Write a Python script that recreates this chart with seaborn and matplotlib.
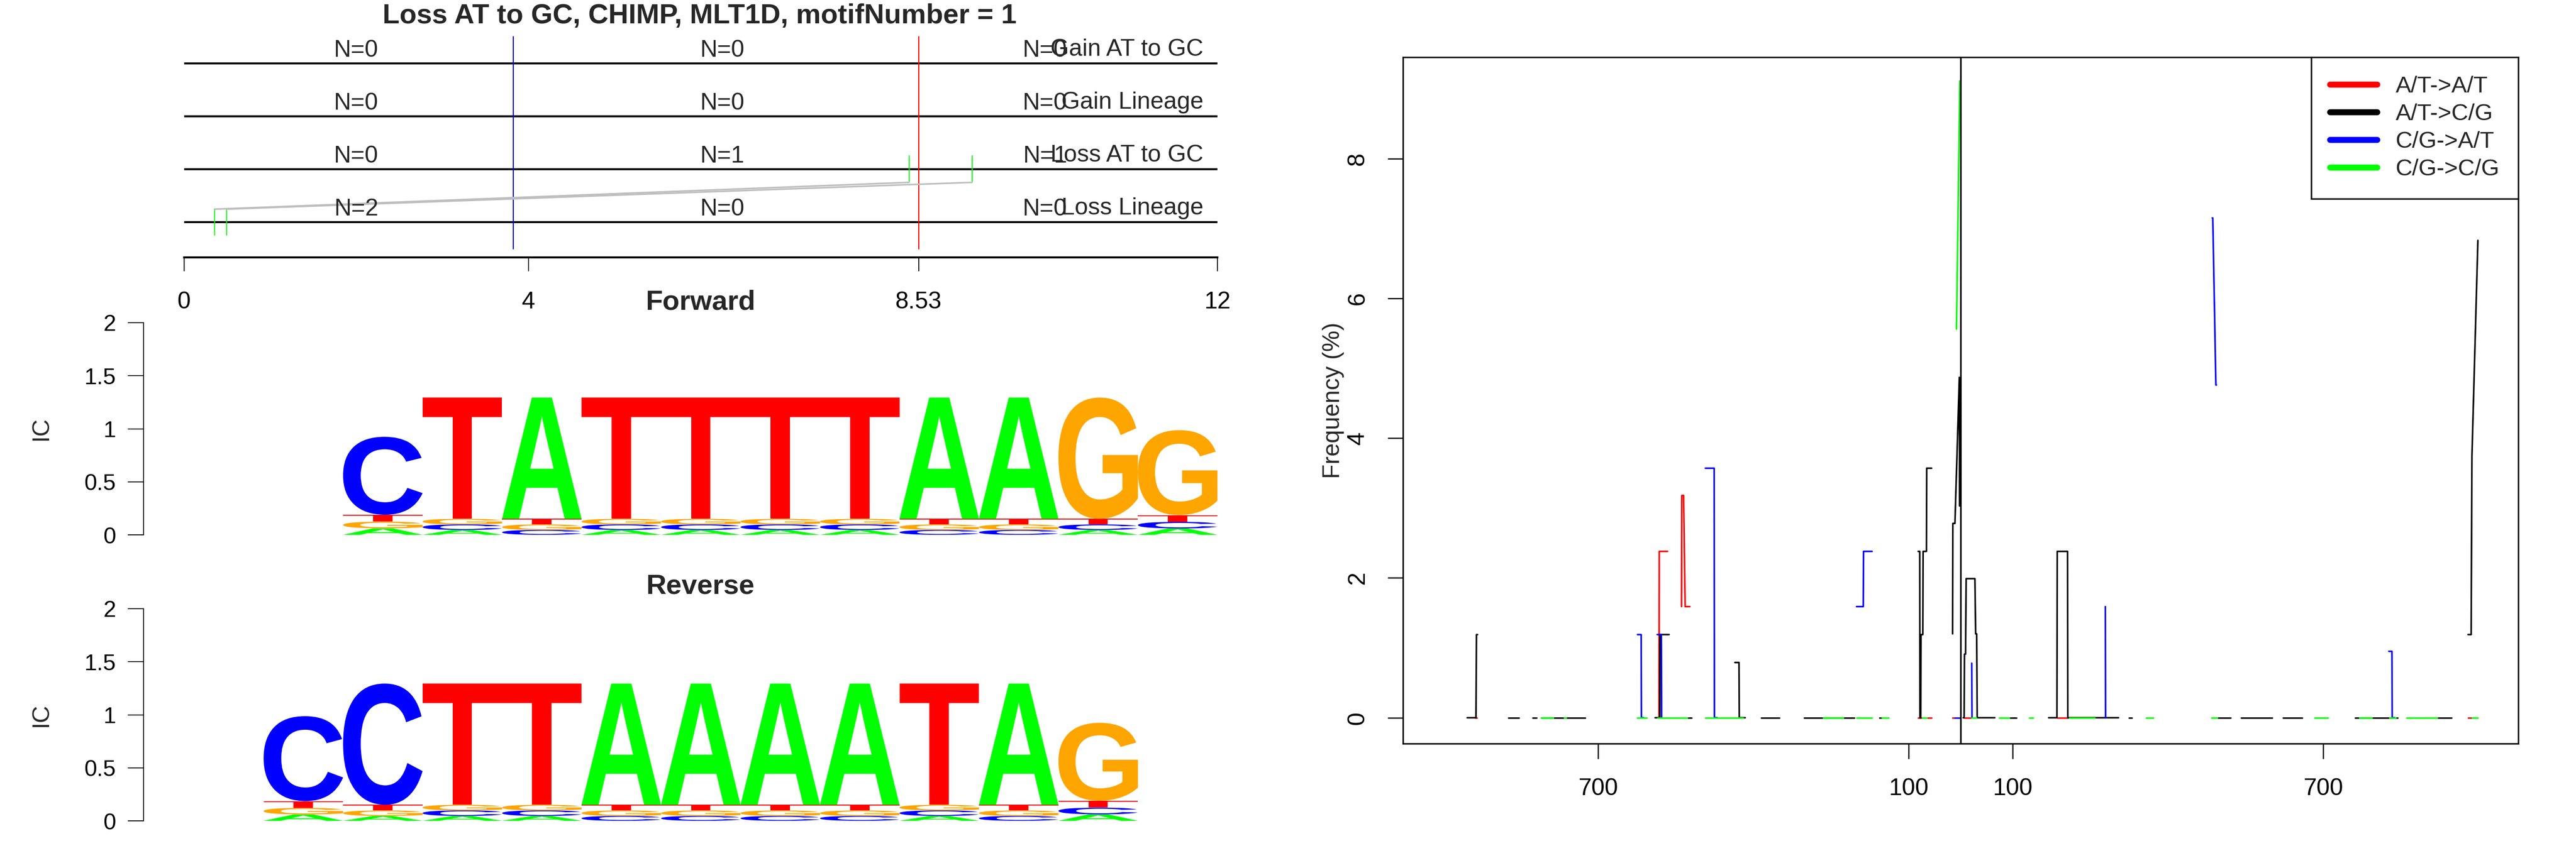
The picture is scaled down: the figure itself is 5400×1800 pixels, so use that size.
import numpy as np
import pandas as pd
import matplotlib
matplotlib.use("Agg")
import matplotlib.pyplot as plt
import seaborn as sns
from matplotlib.textpath import TextPath
from matplotlib.patches import PathPatch
from matplotlib.transforms import Affine2D
from matplotlib.font_manager import FontProperties
from matplotlib.lines import Line2D

sns.set_style("white")
plt.rcParams["font.family"] = ["Liberation Sans", "DejaVu Sans"]

# ------------------------------------------------------------------ data
main_title = "Loss AT to GC, CHIMP, MLT1D, motifNumber = 1"
row_labels = ["Gain AT to GC", "Gain Lineage", "Loss AT to GC", "Loss Lineage"]
n_counts = [[0, 0, 0], [0, 0, 0], [0, 1, 1], [2, 0, 0]]
n_label_x = [2, 6.25, 10]
boundary_x = [3.82, 8.53]
boundary_colors = ["blue", "red"]
top_ticks = [0, 4, 8.53, 12]
top_tick_labels = ["0", "4", "8.53", "12"]
loss_lineage_sites = [0.352, 0.495]
loss_atgc_sites = [8.42, 9.15]

letters = ["A", "C", "G", "T"]
letter_colors = {"A": "#00FF00", "C": "#0000FF", "G": "#FFA500", "T": "#FF0000"}
fwd_A = [0.061, 0.046, 1.143, 0.046, 0.046, 0.046, 0.046, 1.143, 1.143, 0.046, 0.060]
fwd_C = [0.735, 0.052, 0.046, 0.052, 0.052, 0.052, 0.052, 0.046, 0.046, 0.052, 0.062]
fwd_G = [0.063, 0.053, 0.052, 0.053, 0.053, 0.053, 0.053, 0.052, 0.052, 1.143, 0.801]
fwd_T = [0.065, 1.143, 0.053, 1.143, 1.143, 1.143, 1.143, 0.053, 0.053, 0.053, 0.064]
rev_A = [0.060, 0.046, 0.046, 0.046, 1.143, 1.143, 1.143, 1.143, 0.046, 1.143, 0.061]
rev_C = [0.801, 1.143, 0.052, 0.052, 0.046, 0.046, 0.046, 0.046, 0.052, 0.046, 0.063]
rev_G = [0.062, 0.052, 0.053, 0.053, 0.052, 0.052, 0.052, 0.052, 0.053, 0.052, 0.735]
rev_T = [0.064, 0.053, 1.143, 1.143, 0.053, 0.053, 0.053, 0.053, 1.143, 0.053, 0.065]
ic_ticks = [0, 0.5, 1, 1.5, 2]
ic_tick_labels = ["0", "0.5", "1", "1.5", "2"]

mut_types = ["A/T->A/T", "A/T->C/G", "C/G->A/T", "C/G->C/G"]
mut_colors = ["#FF0000", "#000000", "#0000FF", "#00FF00"]
N = None
atat_x = [-937, -934, N, -585, -582.5, -582, -566, N, -539, -538.5, -535, -532, -523, N,
          -82, -76, N, -64, -56, N, -15.5, -11, N, 7.6, 21, N, 186.6, 207, N, 980, 988]
atat_y = [0, 0, N, 0, 0, 2.38, 2.38, N, 1.59, 3.18, 3.18, 1.59, 1.59, N,
          0, 0, N, 0, 0, N, 0, 0, N, 0, 0, N, 0, 0, N, 0, 0]
atcg_x = [-953, -936, -935, -933, N, -873, -853, N, -826, -819, N, -810, -725, N,
          -590, -581, -580.5, -563, N, -527, -520, N, -436, -428, -427.5, -416, N,
          -385, -350, N, -302, -205, N, -157, -152, N,
          -82, -79, -78.5, -77, -76.5, -73, -72.5, -66, -65.5, -56, N,
          -15.5, -15, -11, -2.5, -2, N,
          5, 6.8, 7.5, 9.5, 10.7, 27.6, 29, 31, 32, 66, N, 94, 108, N,
          170, 186, 186.6, 206.5, 207, 305, N, 325, 331, N, 496, 521, N, 542, 602, N,
          623, 660, N, 762, 844, N, 920, 948, N, 980, 986, 987.5, 999]
atcg_y = [0, 0, 1.19, 1.19, N, 0, 0, N, 0, 0, N, 0, 0, N,
          0, 0, 1.19, 1.19, N, 0, 0, N, 0.79, 0.79, 0, 0, N,
          0, 0, N, 0, 0, N, 0, 0, N,
          2.38, 2.38, 0, 0, 1.19, 1.19, 2.38, 2.38, 3.57, 3.57, N,
          1.2, 2.78, 2.78, 4.87, 3.03, N,
          0, 0, 0.91, 0.91, 1.99, 1.99, 1.2, 1.2, 0, 0, N, 0, 0, N,
          0, 0, 2.38, 2.38, 0, 0, N, 0, 0, N, 0, 0, N, 0, 0, N,
          0, 0, N, 0, 0, N, 0, 0, N, 1.19, 1.19, 3.74, 6.83]
cgat_x = [-624, -617, -616.5, -612, N, -586, -578, -577.5, N, -493, -476, -475.5, -470, N,
          -201, -188, -187.5, -171, N, -11, -2, N, 21.5, 22, N, 279.5, 280, N,
          486, 487, 493, 494, N, 827, 833, 833.5, 838]
cgat_y = [1.19, 1.19, 0, 0, N, 1.19, 1.19, 0, N, 3.57, 3.57, 0, 0, N,
          1.59, 1.59, 2.38, 2.38, N, 0, 0, N, 0.78, 0, N, 1.59, 0, N,
          7.15, 7.15, 4.76, 4.76, N, 0.95, 0.95, 0, 0]
cgcg_x = [-810, -787, N, -766, -762, N, -625, -606, N, -585, -528, N, -493, -420, N,
          -265, -227, N, -201, -171, N, -152, -139, N, -74, -65, N, -8, -1.5, N,
          21, 30, N, 75, 94, N, 133, 140, N, 210, 259, N, 358, 372, N, 484.5, 496, N,
          683.5, 709, N, 770, 794.5, N, 828.5, 840, N, 861, 920.5, N, 988, 999]
cgcg_y = [0, 0, N, 0, 0, N, 0, 0, N, 0, 0, N, 0, 0, N,
          0, 0, N, 0, 0, N, 0, 0, N, 0, 0, N, 5.56, 9.11, N,
          0, 0, N, 0, 0, N, 0, 0, N, 0, 0, N, 0, 0, N, 0, 0, N,
          0, 0, N, 0, 0, N, 0, 0, N, 0, 0, N, 0, 0]
freq_ticks = [-700, -100, 100, 700]
freq_tick_labels = ["700", "100", "100", "700"]
freq_yticks = [0, 2, 4, 6, 8]

# ------------------------------------------------------------------ figure
W, H = 5400, 1800
fig = plt.figure(figsize=(18, 6), dpi=300)


def box(x0, y0, x1, y1):
    return [x0 / W, 1 - y1 / H, (x1 - x0) / W, (y1 - y0) / H]


FS = 12

# ---------------- top-left: segment panel
ax_t = fig.add_axes(box(386, 76, 2552, 540))
ax_t.set_xlim(0, 12)
ax_t.set_ylim(0.333, 4.51)
row_y = [4, 3, 2, 1]
for y, lab, counts in zip(row_y, row_labels, n_counts):
    ax_t.hlines(y, 0, 12, color="black", lw=1.0)
    for xx, c in zip(n_label_x, counts):
        ax_t.text(xx, y + 0.24, f"N={c}", ha="center", va="center", fontsize=FS)
    ax_t.text(11.84, y + 0.26, lab, ha="right", va="center", fontsize=FS)
for bx, bc in zip(boundary_x, boundary_colors):
    ax_t.vlines(bx, 0.486, 4.51, color=bc, lw=0.55)
for sx in loss_lineage_sites:
    ax_t.vlines(sx, 0.745, 1.244, color="#00FF00", lw=0.5)
for sx in loss_atgc_sites:
    ax_t.vlines(sx, 1.75, 2.26, color="#00FF00", lw=0.5)
for a, b in zip(loss_lineage_sites, loss_atgc_sites):
    ax_t.plot([a, b], [1.244, 1.75], color="#BEBEBE", lw=0.8)
for s in ["left", "right", "top"]:
    ax_t.spines[s].set_visible(False)
ax_t.spines["bottom"].set_linewidth(1.0)
ax_t.spines["bottom"].set_color("black")
ax_t.set_yticks([])
ax_t.set_xticks(top_ticks)
ax_t.set_xticklabels(top_tick_labels, fontsize=FS)
ax_t.tick_params(axis="x", direction="out", length=7, width=0.45, pad=10, bottom=True,
                 colors="black")
ax_t.set_facecolor("none")
fig.text(1467 / W, 1 - 34 / H, main_title, ha="center", va="center", fontsize=14,
         fontweight="bold")

# ---------------- sequence logos
fp_bold = FontProperties(family="Liberation Sans", weight="bold")
glyphs = {ch: TextPath((0, 0), ch, size=1, prop=fp_bold) for ch in letters}


def draw_logo(ax, cols, first_left):
    A, C, G, T = cols
    for i in range(len(A)):
        heights = {"A": A[i], "C": C[i], "G": G[i], "T": T[i]}
        order = sorted(letters, key=lambda k: heights[k])
        y0 = 0.0
        x0 = first_left + i
        for ch in order:
            h = heights[ch]
            p = glyphs[ch]
            bb = p.get_extents()
            tr = (Affine2D().translate(-bb.x0, -bb.y0)
                  .scale(1.0 / bb.width, h / bb.height).translate(x0, y0))
            ax.add_patch(PathPatch(tr.transform_path(p), fc=letter_colors[ch],
                                   ec="none", lw=0))
            y0 += h


def style_logo(ax):
    ax.set_xlim(0, 13)
    ax.set_ylim(0, 2)
    for s in ["right", "top", "bottom"]:
        ax.spines[s].set_visible(False)
    ax.spines["left"].set_position(("outward", 20.4))
    ax.spines["left"].set_bounds(0, 2)
    ax.spines["left"].set_linewidth(0.45)
    ax.spines["left"].set_color("black")
    ax.set_xticks([])
    ax.set_yticks(ic_ticks)
    ax.set_yticklabels(ic_tick_labels, fontsize=11.5)
    ax.tick_params(axis="y", direction="out", length=8, width=0.45, pad=6, left=True,
                   colors="black")
    ax.set_facecolor("none")


ax_f = fig.add_axes(box(386, 677, 2552, 1122))
draw_logo(ax_f, (fwd_A, fwd_C, fwd_G, fwd_T), 2)
style_logo(ax_f)
fig.text(1468 / W, 1 - 634 / H, "Forward", ha="center", va="center", fontsize=14,
         fontweight="bold")
fig.text(86 / W, 1 - 899 / H, "IC", ha="center", va="center", fontsize=12, rotation=90)

ax_rv = fig.add_axes(box(386, 1277, 2552, 1722))
draw_logo(ax_rv, (rev_A, rev_C, rev_G, rev_T), 1)
style_logo(ax_rv)
fig.text(1468 / W, 1 - 1231 / H, "Reverse", ha="center", va="center", fontsize=14,
         fontweight="bold")
fig.text(86 / W, 1 - 1500 / H, "IC", ha="center", va="center", fontsize=12, rotation=90)

# ---------------- right: mutation frequency
rows = []
for name, xs, ys in zip(mut_types, [atat_x, atcg_x, cgat_x, cgcg_x],
                        [atat_y, atcg_y, cgat_y, cgcg_y]):
    seg = 0
    for xv, yv in zip(xs, ys):
        if xv is None:
            seg += 1
            continue
        rows.append({"type": name, "seg": f"{name}_{seg}", "pos": xv, "freq": yv})
df = pd.DataFrame(rows)

ax_r = fig.add_axes(box(2941, 120, 5279, 1560))
sns.lineplot(data=df, x="pos", y="freq", hue="type", units="seg", estimator=None,
             sort=False, hue_order=mut_types, palette=dict(zip(mut_types, mut_colors)),
             linewidth=0.8, legend=False, ax=ax_r, solid_capstyle="round")
ax_r.axvline(0, color="black", lw=0.8)
ax_r.set_xlim(-1077, 1077)
ax_r.set_ylim(-0.37, 9.45)
ax_r.set_xticks(freq_ticks)
ax_r.set_xticklabels(freq_tick_labels, fontsize=FS)
ax_r.set_yticks(freq_yticks)
ax_r.set_yticklabels([str(v) for v in freq_yticks], fontsize=FS, rotation=90, va="center")
ax_r.tick_params(axis="both", direction="out", length=7.7, width=0.6, pad=9.5,
                 bottom=True, left=True, colors="black")
ax_r.set_xlabel("")
ax_r.set_ylabel("")
for s in ax_r.spines.values():
    s.set_visible(True)
    s.set_color("black")
    s.set_linewidth(0.75)
ax_r.grid(False)
fig.text(2795 / W, 1 - 840 / H, "Frequency (%)", ha="center", va="center", fontsize=FS,
         rotation=90)
handles = [Line2D([], [], color=c, lw=3, solid_capstyle="round") for c in mut_colors]
leg = ax_r.legend(handles, mut_types, loc="upper right", bbox_to_anchor=(1, 1),
                  borderaxespad=0, fontsize=11.7, frameon=True, fancybox=False,
                  edgecolor="black", framealpha=1, handlelength=2.03, handletextpad=0.8,
                  labelspacing=0.27, borderpad=0.8)
leg.get_frame().set_linewidth(0.75)

fig.savefig("out.png", dpi=300, facecolor="white")
